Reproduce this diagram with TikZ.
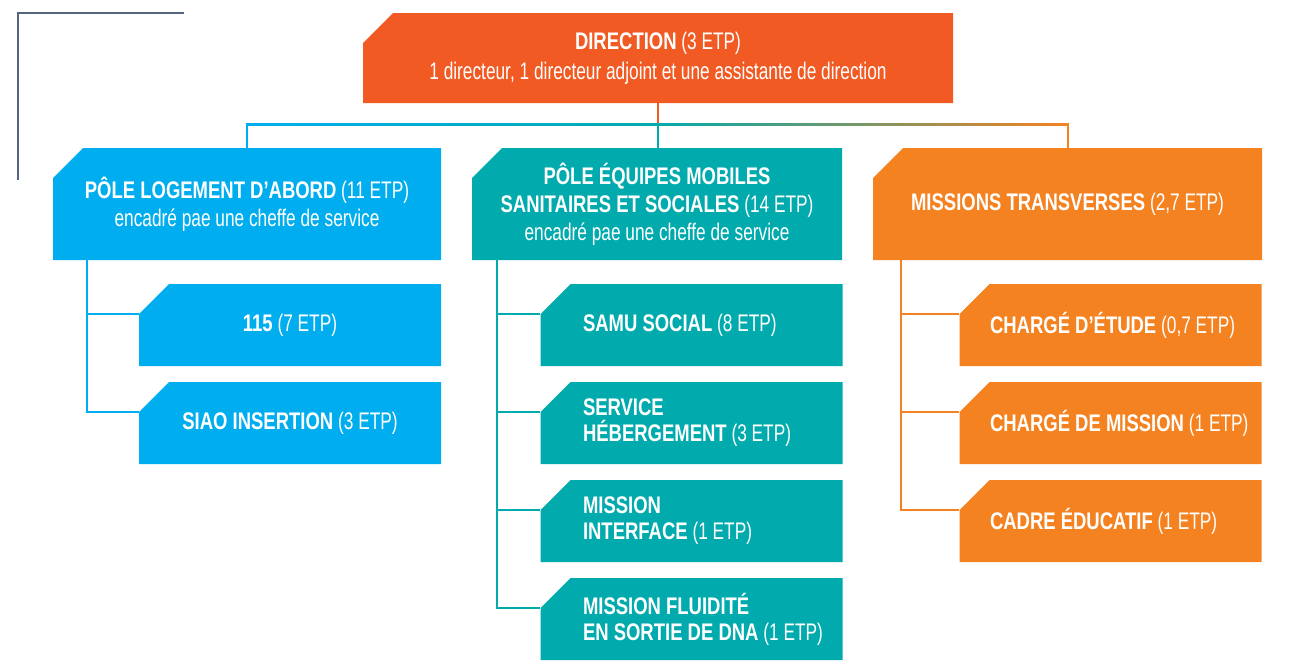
\documentclass[tikz,border=0pt]{standalone}
\usepackage{fontspec}
\setmainfont{Liberation Sans}[FakeStretch=0.72]
\newfontfamily\orgbold{Liberation Sans}[FakeStretch=0.77]
\definecolor{dircolor}{HTML}{F15A22}
\definecolor{poleblue}{HTML}{00AEEF}
\definecolor{poleteal}{HTML}{00AAAD}
\definecolor{poleorange}{HTML}{F58220}
\definecolor{framegray}{HTML}{56657F}
\newcommand{\tb}[1]{{\orgbold\bfseries #1}}

\begin{document}
\begin{tikzpicture}[x=1pt,y=-1pt,
  box/.style={rectangle, inner sep=0pt, text=white,
    font=\fontsize{24}{28}\selectfont, align=center,
    path picture={\fill[#1] ([yshift=-30pt]path picture bounding box.north west)
      -- ([xshift=30pt]path picture bounding box.north west)
      -- (path picture bounding box.north east) -- (path picture bounding box.south east)
      -- (path picture bounding box.south west) -- cycle;}},
  toplevel/.style={box=#1, minimum height=112pt},
  sub/.style={box=#1, minimum height=82pt, minimum width=302pt, font=\fontsize{24}{26}\selectfont},
  midsub/.style={sub=poleteal, text width=217pt, align=flush left},
  rightsub/.style={sub=poleorange, text width=241pt, align=flush left},
  link/.style={line width=2pt}]
\useasboundingbox (0,0) rectangle (1294,664);
\draw[framegray, line width=1.5pt] (184,13) -- (18,13) -- (18,180);

\node[box=dircolor, minimum width=590pt, minimum height=90pt, font=\fontsize{24}{30}\selectfont] (direction) at (658,58)
  {\tb{DIRECTION} (3 ETP)\\1 directeur, 1 directeur adjoint et une assistante de direction};

% poles
\node[toplevel=poleblue, minimum width=388pt] (logement) at (247,204)
  {\tb{PÔLE LOGEMENT D’ABORD} (11 ETP)\\encadré pae une cheffe de service};
\node[toplevel=poleteal, minimum width=370pt] (equipes) at (657,204)
  {\tb{PÔLE ÉQUIPES MOBILES}\\\tb{SANITAIRES ET SOCIALES} (14 ETP)\\encadré pae une cheffe de service};
\node[toplevel=poleorange, minimum width=389pt] (missions) at (1067.5,204)
  {\tb{MISSIONS TRANSVERSES} (2,7 ETP)};

% services
\node[sub=poleblue] (num115) at (290,325) {\tb{115} (7 ETP)};
\node[sub=poleblue] (siao) at (290,423) {\tb{SIAO INSERTION} (3 ETP)};

\node[midsub] (samu) at (691.5,325) {\mbox{\tb{SAMU SOCIAL} (8 ETP)}};
\node[midsub] (hebergement) at (691.5,423) {\tb{SERVICE}\\\mbox{\tb{HÉBERGEMENT} (3 ETP)}};
\node[midsub] (interface) at (691.5,521) {\tb{MISSION}\\\mbox{\tb{INTERFACE} (1 ETP)}};
\node[midsub] (fluidite) at (691.5,619) {\mbox{\tb{MISSION FLUIDITÉ}}\\\mbox{\tb{EN SORTIE DE DNA} (1 ETP)}};

\node[rightsub] (etude) at (1110.5,325) {\mbox{\tb{CHARGÉ D’ÉTUDE} (0,7 ETP)}};
\node[rightsub] (mission) at (1110.5,423) {\mbox{\tb{CHARGÉ DE MISSION} (1 ETP)}};
\node[rightsub] (cadre) at (1110.5,521) {\mbox{\tb{CADRE ÉDUCATIF} (1 ETP)}};

% bus
\coordinate (bus) at (direction.south |- 0,124);
\coordinate (busleft) at (logement.north |- bus);
\coordinate (busright) at (missions.north |- bus);
\draw[link, dircolor] (direction.south) -- (bus);
\shade[left color=poleblue, right color=poleteal] ([yshift=1pt]busleft) rectangle ([yshift=-1pt]bus);
\shade[left color=poleteal, right color=poleorange] ([yshift=1pt]bus) rectangle ([yshift=-1pt]busright);
\draw[link, poleblue] ([yshift=1pt]busleft) -- (logement.north);
\draw[link, poleteal] (bus) -- (bus |- equipes.north);
\draw[link, poleorange] ([yshift=1pt]busright) -- (missions.north);

% branches
\foreach \c in {num115,siao}
  \draw[link, poleblue] ([xshift=-160pt]logement.south) |- ([yshift=11pt]\c.west);
\foreach \c in {samu,hebergement,interface,fluidite}
  \draw[link, poleteal] ([xshift=-160pt]equipes.south) |- ([yshift=11pt]\c.west);
\foreach \c in {etude,mission,cadre}
  \draw[link, poleorange] ([xshift=-166.5pt]missions.south) |- ([yshift=11pt]\c.west);
\end{tikzpicture}
\end{document}
